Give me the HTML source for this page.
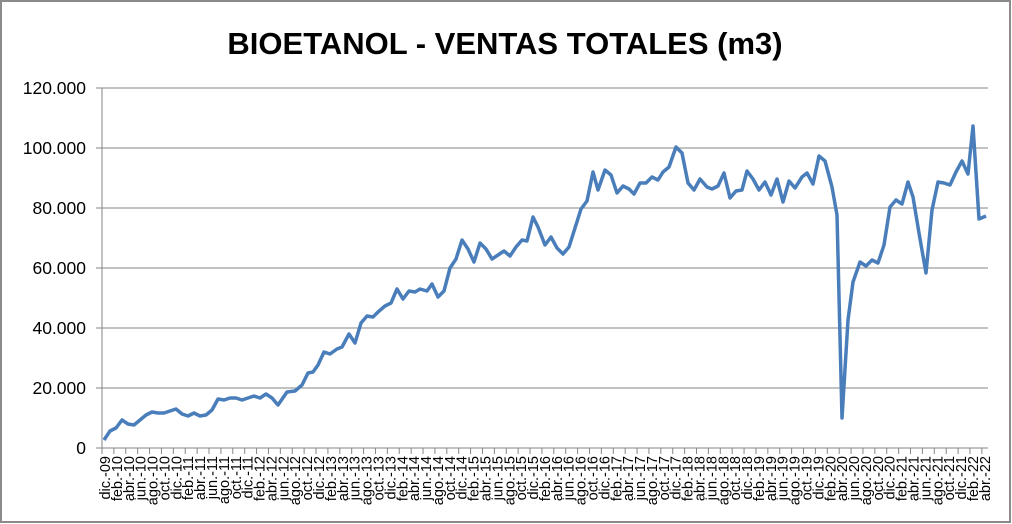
<!DOCTYPE html><html><head><meta charset="utf-8"><style>body{margin:0;background:#fff}svg{display:block}</style></head><body>
<svg width="1012" height="524" xmlns="http://www.w3.org/2000/svg" font-family="Liberation Sans, sans-serif">
<rect x="1" y="1" width="1009" height="521" fill="#fff" stroke="#8a8a8a" stroke-width="2"/>
<text x="505" y="54" font-size="31" font-weight="bold" text-anchor="middle">BIOETANOL - VENTAS TOTALES (m3)</text>
<g stroke="#868686" stroke-width="1">
<line x1="102" y1="88" x2="988" y2="88"/><line x1="102" y1="148" x2="988" y2="148"/><line x1="102" y1="208" x2="988" y2="208"/><line x1="102" y1="268" x2="988" y2="268"/><line x1="102" y1="328" x2="988" y2="328"/><line x1="102" y1="388" x2="988" y2="388"/><line x1="102" y1="448" x2="988" y2="448"/>
<line x1="102" y1="88" x2="102" y2="448"/>
<line x1="96" y1="88" x2="102" y2="88"/><line x1="96" y1="148" x2="102" y2="148"/><line x1="96" y1="208" x2="102" y2="208"/><line x1="96" y1="268" x2="102" y2="268"/><line x1="96" y1="328" x2="102" y2="328"/><line x1="96" y1="388" x2="102" y2="388"/><line x1="96" y1="448" x2="102" y2="448"/>
<line x1="101.5" y1="451" x2="990" y2="451" stroke-width="6" stroke-dasharray="1 10.89"/>
</g>
<g font-size="17.5" text-anchor="end" fill="#000">
<text x="86" y="94">120.000</text><text x="86" y="154">100.000</text><text x="86" y="214">80.000</text><text x="86" y="274">60.000</text><text x="86" y="334">40.000</text><text x="86" y="394">20.000</text><text x="86" y="454">0</text>
</g>
<g font-size="14.5" text-anchor="end">
<text transform="translate(110,456) rotate(-90)">dic.-09</text>
<text transform="translate(121.9,456) rotate(-90)">feb.-10</text>
<text transform="translate(133.8,456) rotate(-90)">abr.-10</text>
<text transform="translate(145.7,456) rotate(-90)">jun.-10</text>
<text transform="translate(157.6,456) rotate(-90)">ago.-10</text>
<text transform="translate(169.5,456) rotate(-90)">oct.-10</text>
<text transform="translate(181.3,456) rotate(-90)">dic.-10</text>
<text transform="translate(193.2,456) rotate(-90)">feb.-11</text>
<text transform="translate(205.1,456) rotate(-90)">abr.-11</text>
<text transform="translate(217,456) rotate(-90)">jun.-11</text>
<text transform="translate(228.9,456) rotate(-90)">ago.-11</text>
<text transform="translate(240.8,456) rotate(-90)">oct.-11</text>
<text transform="translate(252.7,456) rotate(-90)">dic.-11</text>
<text transform="translate(264.6,456) rotate(-90)">feb.-12</text>
<text transform="translate(276.5,456) rotate(-90)">abr.-12</text>
<text transform="translate(288.4,456) rotate(-90)">jun.-12</text>
<text transform="translate(300.2,456) rotate(-90)">ago.-12</text>
<text transform="translate(312.1,456) rotate(-90)">oct.-12</text>
<text transform="translate(324,456) rotate(-90)">dic.-12</text>
<text transform="translate(335.9,456) rotate(-90)">feb.-13</text>
<text transform="translate(347.8,456) rotate(-90)">abr.-13</text>
<text transform="translate(359.7,456) rotate(-90)">jun.-13</text>
<text transform="translate(371.6,456) rotate(-90)">ago.-13</text>
<text transform="translate(383.5,456) rotate(-90)">oct.-13</text>
<text transform="translate(395.4,456) rotate(-90)">dic.-13</text>
<text transform="translate(407.3,456) rotate(-90)">feb.-14</text>
<text transform="translate(419.1,456) rotate(-90)">abr.-14</text>
<text transform="translate(431,456) rotate(-90)">jun.-14</text>
<text transform="translate(442.9,456) rotate(-90)">ago.-14</text>
<text transform="translate(454.8,456) rotate(-90)">oct.-14</text>
<text transform="translate(466.7,456) rotate(-90)">dic.-14</text>
<text transform="translate(478.6,456) rotate(-90)">feb.-15</text>
<text transform="translate(490.5,456) rotate(-90)">abr.-15</text>
<text transform="translate(502.4,456) rotate(-90)">jun.-15</text>
<text transform="translate(514.3,456) rotate(-90)">ago.-15</text>
<text transform="translate(526.2,456) rotate(-90)">oct.-15</text>
<text transform="translate(538,456) rotate(-90)">dic.-15</text>
<text transform="translate(549.9,456) rotate(-90)">feb.-16</text>
<text transform="translate(561.8,456) rotate(-90)">abr.-16</text>
<text transform="translate(573.7,456) rotate(-90)">jun.-16</text>
<text transform="translate(585.6,456) rotate(-90)">ago.-16</text>
<text transform="translate(597.5,456) rotate(-90)">oct.-16</text>
<text transform="translate(609.4,456) rotate(-90)">dic.-16</text>
<text transform="translate(621.3,456) rotate(-90)">feb.-17</text>
<text transform="translate(633.2,456) rotate(-90)">abr.-17</text>
<text transform="translate(645.1,456) rotate(-90)">jun.-17</text>
<text transform="translate(656.9,456) rotate(-90)">ago.-17</text>
<text transform="translate(668.8,456) rotate(-90)">oct.-17</text>
<text transform="translate(680.7,456) rotate(-90)">dic.-17</text>
<text transform="translate(692.6,456) rotate(-90)">feb.-18</text>
<text transform="translate(704.5,456) rotate(-90)">abr.-18</text>
<text transform="translate(716.4,456) rotate(-90)">jun.-18</text>
<text transform="translate(728.3,456) rotate(-90)">ago.-18</text>
<text transform="translate(740.2,456) rotate(-90)">oct.-18</text>
<text transform="translate(752.1,456) rotate(-90)">dic.-18</text>
<text transform="translate(764,456) rotate(-90)">feb.-19</text>
<text transform="translate(775.8,456) rotate(-90)">abr.-19</text>
<text transform="translate(787.7,456) rotate(-90)">jun.-19</text>
<text transform="translate(799.6,456) rotate(-90)">ago.-19</text>
<text transform="translate(811.5,456) rotate(-90)">oct.-19</text>
<text transform="translate(823.4,456) rotate(-90)">dic.-19</text>
<text transform="translate(835.3,456) rotate(-90)">feb.-20</text>
<text transform="translate(847.2,456) rotate(-90)">abr.-20</text>
<text transform="translate(859.1,456) rotate(-90)">jun.-20</text>
<text transform="translate(871,456) rotate(-90)">ago.-20</text>
<text transform="translate(882.9,456) rotate(-90)">oct.-20</text>
<text transform="translate(894.7,456) rotate(-90)">dic.-20</text>
<text transform="translate(906.6,456) rotate(-90)">feb.-21</text>
<text transform="translate(918.5,456) rotate(-90)">abr.-21</text>
<text transform="translate(930.4,456) rotate(-90)">jun.-21</text>
<text transform="translate(942.3,456) rotate(-90)">ago.-21</text>
<text transform="translate(954.2,456) rotate(-90)">oct.-21</text>
<text transform="translate(966.1,456) rotate(-90)">dic.-21</text>
<text transform="translate(978,456) rotate(-90)">feb.-22</text>
<text transform="translate(989.9,456) rotate(-90)">abr.-22</text>
</g>
<polyline fill="none" stroke="#4a7ebb" stroke-width="3.5" stroke-linejoin="round" points="104,440 110,431 116,428 122,420 128,424 134,425 140,420 146,415 152,412 158,413 164,413 170,411 176,409 182,414 188,416 194,413 200,416 206,415 212,410 218,399 224,400 230,398 236,398 242,400 248,398 254,396 260,398 266,394 272,398 278,405 287,392 295,391 302,385 308,373 313,372 318,365 324,352 330,354 337,349 342,347 349,334 355,343 361,323 367,316 373,317 378,312 385,306 391,303 397,289 403,299 409,291 415,292 420,289 427,291 432,284 438,297 444,291 450,268 456,259 462,240 468,249 474,262 480,243 486,249 492,259 498,255 504,251 510,256 516,247 522,240 527,241 533,217 538,227 545,245 551,237 557,248 563,254 569,247 575,228 581,209 587,201 593,172 598,190 605,170 611,175 617,193 623,186 629,189 634,194 640,183 646,183 652,177 658,180 663,172 669,167 676,147 682,153 688,183 694,190 700,179 707,187 712,189 718,186 724,173 730,198 736,191 742,190 747,171 753,179 759,190 765,182 771,195 777,179 783,202 789,181 795,188 802,177 807,173 813,184 819,156 825,161 832,187 837,215 842,418 848,320 853,282 860,262 866,266 872,260 878,263 884,245 890,207 896,200 902,204 908,182 913,197 919,233 926,273 932,210 938,182 944,183 950,185 956,172 962,161 968,174 973,126 979,219 986,216"/>
</svg></body></html>
